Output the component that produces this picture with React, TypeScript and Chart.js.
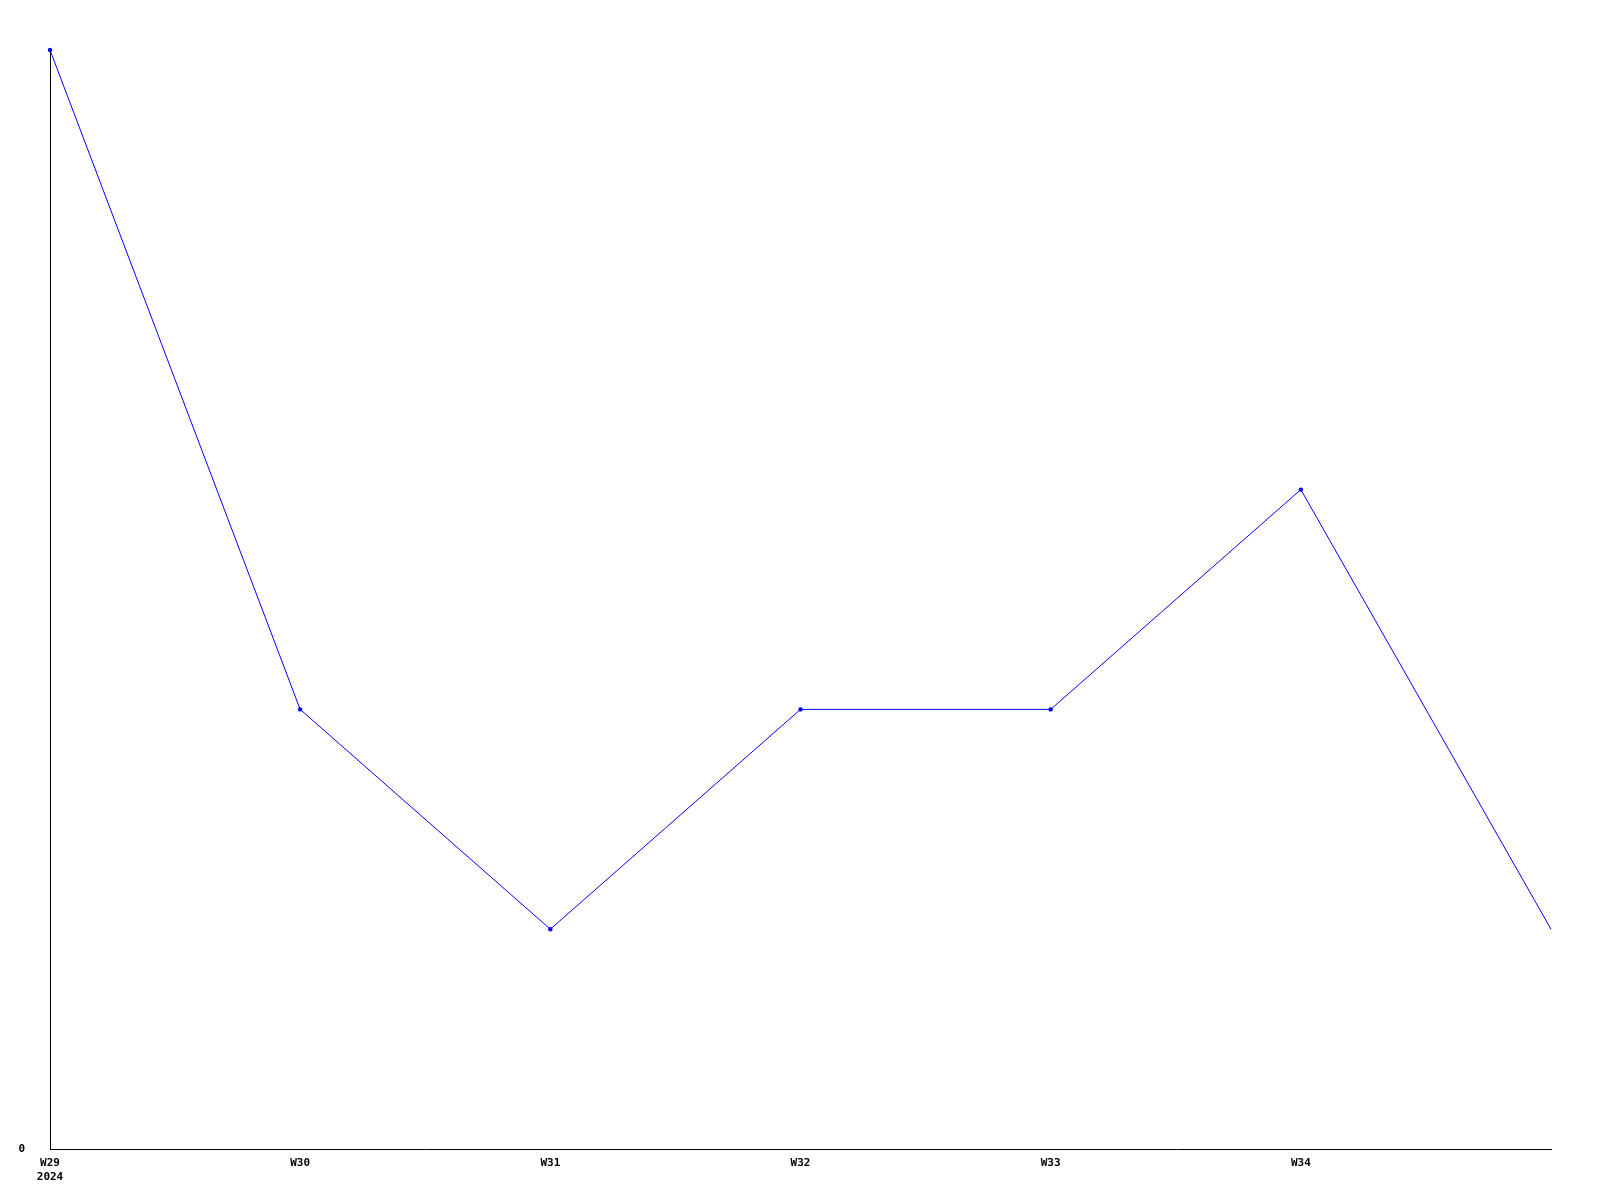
import React, { useEffect, useRef } from "react";
import { Chart, registerables } from "chart.js";

Chart.register(...registerables);

const weekLabels: (string | string[])[] = [["W29", "2024"], "W30", "W31", "W32", "W33", "W34", ""];
const seriesValues = [5, 2, 1, 2, 2, 3, 1];
const yMin = 0;
const yMax = 5;

const FONT = { family: "'DejaVu Sans Mono', 'Liberation Mono', monospace", size: 11, weight: "bold" as const };

export default function App() {
  const ref = useRef<HTMLCanvasElement | null>(null);
  useEffect(() => {
    if (!ref.current) return;
    const chart = new Chart(ref.current, {
      type: "line",
      data: {
        labels: weekLabels,
        datasets: [
          {
            data: seriesValues,
            borderColor: "#0000ff",
            backgroundColor: "#0000ff",
            borderWidth: 1,
            pointRadius: seriesValues.map((_, i) => (i === seriesValues.length - 1 ? 0 : 2.2)),
            pointBorderWidth: 0,
            pointStyle: "circle",
            tension: 0,
            fill: false,
            clip: false as any,
          },
        ],
      },
      options: {
        animation: false,
        responsive: false,
        maintainAspectRatio: false,
        layout: { padding: { top: 50, right: 49, bottom: 0, left: 0 } },
        plugins: { legend: { display: false }, tooltip: { enabled: false } },
        scales: {
          x: {
            type: "category",
            offset: false,
            grid: { display: false, drawTicks: false },
            border: { display: true, color: "#000", width: 1 },
            ticks: {
              color: "#000",
              font: FONT,
              padding: 8,
              maxRotation: 0,
              autoSkip: false,
            },
            afterFit: (s: any) => {
              s.height = 51;
            },
          },
          y: {
            min: yMin,
            max: yMax,
            grid: { display: false, drawTicks: false },
            border: { display: true, color: "#000", width: 1 },
            ticks: {
              color: "#000",
              font: FONT,
              padding: 25,
              stepSize: 1,
              callback: (v: any) => (Number(v) === 0 ? "0" : ""),
            },
            afterFit: (s: any) => {
              s.width = 50;
            },
          },
        },
      },
    });
    return () => chart.destroy();
  }, []);
  return (
    <div style={{ position: "absolute", left: 0, top: 0, width: 1600, height: 1200, background: "#fff" }}>
      <canvas ref={ref} width={1600} height={1200} style={{ display: "block", width: 1600, height: 1200 }} />
    </div>
  );
}
